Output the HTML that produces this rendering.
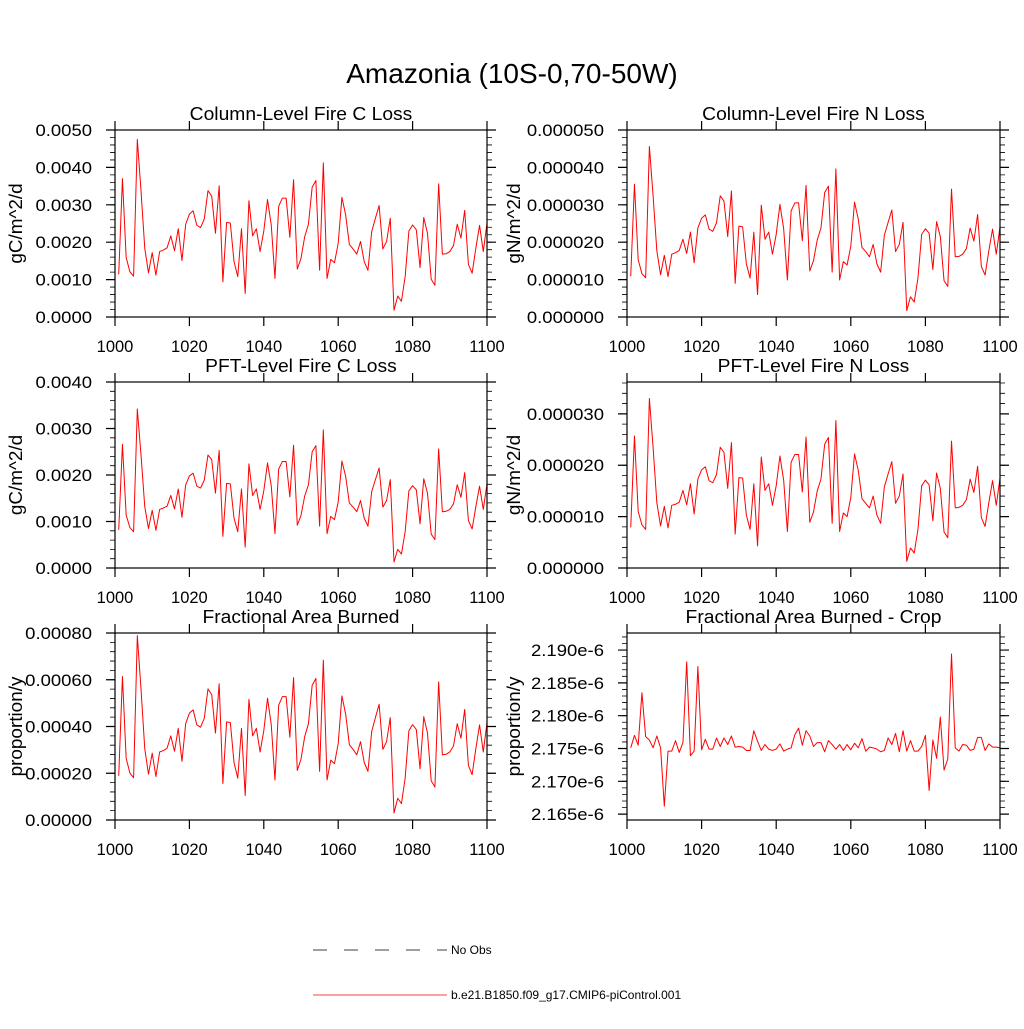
<!DOCTYPE html>
<html><head><meta charset="utf-8">
<style>
html,body{margin:0;padding:0;background:#fff;}
svg text{font-family:"Liberation Sans",sans-serif;fill:#000;}
</style></head>
<body>
<svg id="chart" width="1024" height="1024" viewBox="0 0 1024 1024" xmlns="http://www.w3.org/2000/svg">
<text x="512" y="83" font-size="28" text-anchor="middle">Amazonia (10S-0,70-50W)</text>
<g id="panels"></g>
<g>
<line x1="313" y1="950" x2="447" y2="950" stroke="#000" stroke-width="0.8" stroke-dasharray="14,17"/>
<text x="451" y="954" font-size="12">No Obs</text>
<line x1="313" y1="995" x2="447" y2="995" stroke="#f00" stroke-width="0.8"/>
<text x="451" y="999" font-size="12">b.e21.B1850.f09_g17.CMIP6-piControl.001</text>
</g>
</svg>
<script>
const years = [];
for (let y = 1001; y <= 1100; y++) years.push(y);
const xTicks = [1000, 1020, 1040, 1060, 1080, 1100];

// Column-level fire C loss (units 1e-3 gC/m^2/d)
const colC = [1.14,3.70,1.59,1.21,1.09,4.75,3.36,1.84,1.18,1.72,
1.12,1.75,1.79,1.85,2.17,1.77,2.36,1.51,2.48,2.75,
2.84,2.45,2.39,2.62,3.38,3.23,2.24,3.51,0.94,2.53,
2.51,1.48,1.08,2.36,0.63,3.11,2.17,2.36,1.75,2.30,
3.14,2.46,1.03,2.96,3.18,3.18,2.13,3.67,1.28,1.57,
2.15,2.48,3.47,3.65,1.25,4.12,1.03,1.54,1.45,1.97,
3.20,2.73,1.94,1.82,1.68,2.02,1.48,1.25,2.28,2.64,
2.98,1.82,2.02,2.64,0.18,0.56,0.42,1.08,2.30,2.46,
2.33,1.32,2.66,2.24,1.01,0.85,3.56,1.68,1.69,1.75,
1.91,2.48,2.11,2.85,1.41,1.17,1.84,2.45,1.75,2.51];
// Column-level fire N loss (units 1e-5)
const colN = [1.09,3.55,1.53,1.16,1.05,4.56,3.23,1.77,1.13,1.65,
1.08,1.68,1.72,1.78,2.08,1.70,2.27,1.45,2.38,2.64,
2.73,2.35,2.29,2.52,3.24,3.10,2.15,3.37,0.90,2.43,
2.41,1.42,1.04,2.27,0.60,2.99,2.08,2.27,1.68,2.21,
3.01,2.36,0.99,2.84,3.05,3.05,2.04,3.52,1.23,1.51,
2.06,2.38,3.33,3.50,1.20,3.96,0.99,1.48,1.39,1.89,
3.07,2.62,1.86,1.75,1.61,1.94,1.42,1.20,2.19,2.53,
2.86,1.75,1.94,2.53,0.17,0.54,0.40,1.04,2.21,2.36,
2.24,1.27,2.55,2.15,0.97,0.82,3.42,1.61,1.62,1.68,
1.83,2.38,2.03,2.74,1.35,1.12,1.77,2.35,1.68,2.41];
// PFT-level fire C loss (units 1e-3)
const pftC = [0.82,2.66,1.14,0.87,0.78,3.42,2.42,1.32,0.85,1.24,
0.81,1.26,1.29,1.33,1.56,1.27,1.70,1.09,1.79,1.98,
2.04,1.76,1.72,1.89,2.43,2.33,1.61,2.53,0.68,1.82,
1.81,1.07,0.78,1.70,0.45,2.24,1.56,1.70,1.26,1.66,
2.26,1.77,0.74,2.13,2.29,2.29,1.53,2.64,0.92,1.13,
1.55,1.79,2.50,2.63,0.90,2.97,0.74,1.11,1.04,1.42,
2.30,1.97,1.40,1.31,1.21,1.45,1.07,0.90,1.64,1.90,
2.15,1.31,1.45,1.90,0.13,0.40,0.30,0.78,1.66,1.77,
1.68,0.95,1.92,1.61,0.73,0.61,2.56,1.21,1.22,1.26,
1.38,1.79,1.52,2.05,1.02,0.84,1.32,1.76,1.26,1.81];
// PFT-level fire N loss (units 1e-5)
const pftN = [0.79,2.57,1.10,0.84,0.75,3.30,2.34,1.27,0.82,1.20,
0.78,1.22,1.24,1.28,1.51,1.23,1.64,1.05,1.73,1.91,
1.97,1.70,1.66,1.82,2.35,2.25,1.55,2.44,0.66,1.76,
1.75,1.03,0.75,1.64,0.43,2.16,1.51,1.64,1.22,1.60,
2.18,1.71,0.71,2.06,2.21,2.21,1.48,2.55,0.89,1.09,
1.50,1.73,2.41,2.54,0.87,2.87,0.71,1.07,1.00,1.37,
2.22,1.90,1.35,1.26,1.17,1.40,1.03,0.87,1.58,1.83,
2.07,1.26,1.40,1.83,0.13,0.39,0.29,0.75,1.60,1.71,
1.62,0.92,1.85,1.55,0.70,0.59,2.47,1.17,1.18,1.22,
1.33,1.73,1.47,1.98,0.98,0.81,1.27,1.70,1.22,1.75];
// Fractional area burned (units 1e-4)
const areaB = [1.89,6.14,2.64,2.01,1.81,7.89,5.58,3.05,1.96,2.86,
1.86,2.91,2.97,3.07,3.60,2.94,3.92,2.51,4.12,4.57,
4.71,4.07,3.97,4.35,5.61,5.36,3.72,5.83,1.56,4.20,
4.17,2.46,1.79,3.92,1.05,5.16,3.60,3.92,2.91,3.82,
5.21,4.08,1.71,4.91,5.28,5.28,3.54,6.09,2.12,2.61,
3.57,4.12,5.76,6.06,2.08,6.84,1.71,2.56,2.41,3.27,
5.31,4.53,3.22,3.02,2.79,3.35,2.46,2.08,3.78,4.38,
4.95,3.02,3.35,4.38,0.30,0.93,0.70,1.79,3.82,4.08,
3.87,2.19,4.42,3.72,1.68,1.41,5.91,2.79,2.81,2.91,
3.17,4.12,3.50,4.73,2.34,1.94,3.05,4.07,2.91,4.17];
// Fractional area burned - crop (units 1e-6)
const areaCrop = [2.1751,2.1770,2.1755,2.1835,2.1768,2.1763,2.1751,2.1769,2.1751,2.1662,
2.1746,2.1746,2.1762,2.1744,2.1759,2.1882,2.1739,2.1746,2.1875,2.1748,
2.1764,2.1749,2.1749,2.1766,2.1753,2.1766,2.1756,2.1769,2.1752,2.1753,
2.1752,2.1747,2.1747,2.1777,2.1761,2.1747,2.1756,2.1749,2.1747,2.1749,
2.1757,2.1746,2.1749,2.1751,2.1771,2.1781,2.1755,2.1777,2.1769,2.1753,
2.1759,2.1759,2.1745,2.1762,2.1756,2.1749,2.1756,2.1747,2.1756,2.1748,
2.1758,2.1751,2.1765,2.1746,2.1752,2.1751,2.1749,2.1745,2.1747,2.1766,
2.1756,2.1773,2.1745,2.1777,2.1746,2.1762,2.1746,2.1746,2.1753,2.1770,
2.1686,2.1763,2.1735,2.1798,2.1717,2.1734,2.1894,2.1751,2.1746,2.1756,
2.1755,2.1747,2.1749,2.1767,2.1767,2.1747,2.1757,2.1752,2.1752,2.1751];

const ticksC5 = [0,1,2,3,4,5];
const labelsC5 = ["0.0000","0.0010","0.0020","0.0030","0.0040","0.0050"];
const ticksN5 = [0,1,2,3,4,5];
const labelsN5 = ["0.000000","0.000010","0.000020","0.000030","0.000040","0.000050"];
const ticksC4 = [0,1,2,3,4];
const labelsC4 = ["0.0000","0.0010","0.0020","0.0030","0.0040"];
const ticksN3 = [0,1,2,3];
const labelsN3 = ["0.000000","0.000010","0.000020","0.000030"];
const ticksA = [0,2,4,6,8];
const labelsA = ["0.00000","0.00020","0.00040","0.00060","0.00080"];
const ticksCrop = [2.165,2.170,2.175,2.180,2.185,2.190];
const labelsCrop = ["2.165e-6","2.170e-6","2.175e-6","2.180e-6","2.185e-6","2.190e-6"];

const NS = "http://www.w3.org/2000/svg";
function mk(tag, attrs, parent){
  const e = document.createElementNS(NS, tag);
  for (const k in attrs) e.setAttribute(k, attrs[k]);
  parent.appendChild(e);
  return e;
}
function stretch(el, f){
  const w = el.getComputedTextLength();
  el.setAttribute("textLength", (w * f).toFixed(1));
  el.setAttribute("lengthAdjust", "spacingAndGlyphs");
}

const panelDefs = [
  {key:"col-c", title:"Column-Level Fire C Loss", ylab:"gC/m^2/d", L:115, R:487, T:130, B:317, yMin:0, yMax:5, minor:0.2, ticks:ticksC5, labels:labelsC5, data:colC, ytx:16},
  {key:"col-n", title:"Column-Level Fire N Loss", ylab:"gN/m^2/d", L:627, R:1000, T:130, B:317, yMin:0, yMax:5, minor:0.2, ticks:ticksN5, labels:labelsN5, data:colN, ytx:514},
  {key:"pft-c", title:"PFT-Level Fire C Loss", ylab:"gC/m^2/d", L:115, R:487, T:382, B:568, yMin:0, yMax:4, minor:0.2, ticks:ticksC4, labels:labelsC4, data:pftC, ytx:16},
  {key:"pft-n", title:"PFT-Level Fire N Loss", ylab:"gN/m^2/d", L:627, R:1000, T:382, B:568, yMin:0, yMax:3.62, minor:0.2, ticks:ticksN3, labels:labelsN3, data:pftN, ytx:514},
  {key:"area", title:"Fractional Area Burned", ylab:"proportion/y", L:115, R:487, T:633, B:820, yMin:0, yMax:8, minor:0.4, ticks:ticksA, labels:labelsA, data:areaB, ytx:16},
  {key:"crop", title:"Fractional Area Burned - Crop", ylab:"proportion/y", L:627, R:1000, T:633, B:820, yMin:2.1641, yMax:2.1926, minor:0.001, ticks:ticksCrop, labels:labelsCrop, data:areaCrop, ytx:514}
];

const root = document.getElementById("panels");
panelDefs.forEach(p => {
  const g = mk("g", {}, root);
  
  
  const xs = v => p.L + (v - 1000) / 100 * (p.R - p.L);
  const ys = v => p.B - (v - p.yMin) / (p.yMax - p.yMin) * (p.B - p.T);

  const t = mk("text", {x:(p.L+p.R)/2, y:p.T-10, "font-size":18, "text-anchor":"middle"}, g);
  t.textContent = p.title;
  
  
  stretch(t, 1.07);

  const yl = mk("text", {x:0, y:0, "font-size":18, "text-anchor":"middle", transform:"translate(" + (p.ytx + 6) + "," + ((p.T+p.B)/2) + ") rotate(-90)"}, g);
  yl.textContent = p.ylab;
  
  
  stretch(yl, 1.05);

  let d = "";
  const start = Math.ceil((p.yMin - 1e-9) / p.minor);
  for (let i = start; i * p.minor <= p.yMax + 1e-9; i++) {
    const yy = ys(i * p.minor);
    d += "M" + (p.L - 5) + " " + yy + "H" + p.L + "M" + p.R + " " + yy + "H" + (p.R + 5);
  }
  const mn = mk("path", {d:d, stroke:"#000", "stroke-width":0.8, fill:"none"}, g);
  
  

  p.ticks.forEach((tv, i) => {
    const yy = ys(tv);
    const tk = mk("path", {d:"M" + (p.L - 9) + " " + yy + "H" + p.L + "M" + p.R + " " + yy + "H" + (p.R + 9), stroke:"#000", "stroke-width":1.2}, g);
    
    
    const lb = mk("text", {x:p.L - 23, y:yy + 6, "font-size":16.5, "text-anchor":"end"}, g);
    lb.textContent = p.labels[i];
    
    
    stretch(lb, 1.12);
  });
  xTicks.forEach(tv => {
    const xx = xs(tv);
    const tk = mk("path", {d:"M" + xx + " " + p.B + "V" + (p.B + 9) + "M" + xx + " " + p.T + "V" + (p.T - 9), stroke:"#000", "stroke-width":1.2}, g);
    
    
    const lb = mk("text", {x:xx, y:p.B + 35, "font-size":16.5, "text-anchor":"middle"}, g);
    lb.textContent = String(tv);
    
    
  });

  let pd = "";
  p.data.forEach((v, i) => { pd += (i ? "L" : "M") + xs(years[i]).toFixed(2) + " " + ys(v).toFixed(2); });
  const ln = mk("path", {d:pd, stroke:"#f00", "stroke-width":1, fill:"none", "stroke-linejoin":"round"}, g);
  
  

  const fr = mk("rect", {x:p.L, y:p.T, width:p.R - p.L, height:p.B - p.T, fill:"none", stroke:"#000", "stroke-width":1.2}, g);
  
  
});
</script>
</body></html>
